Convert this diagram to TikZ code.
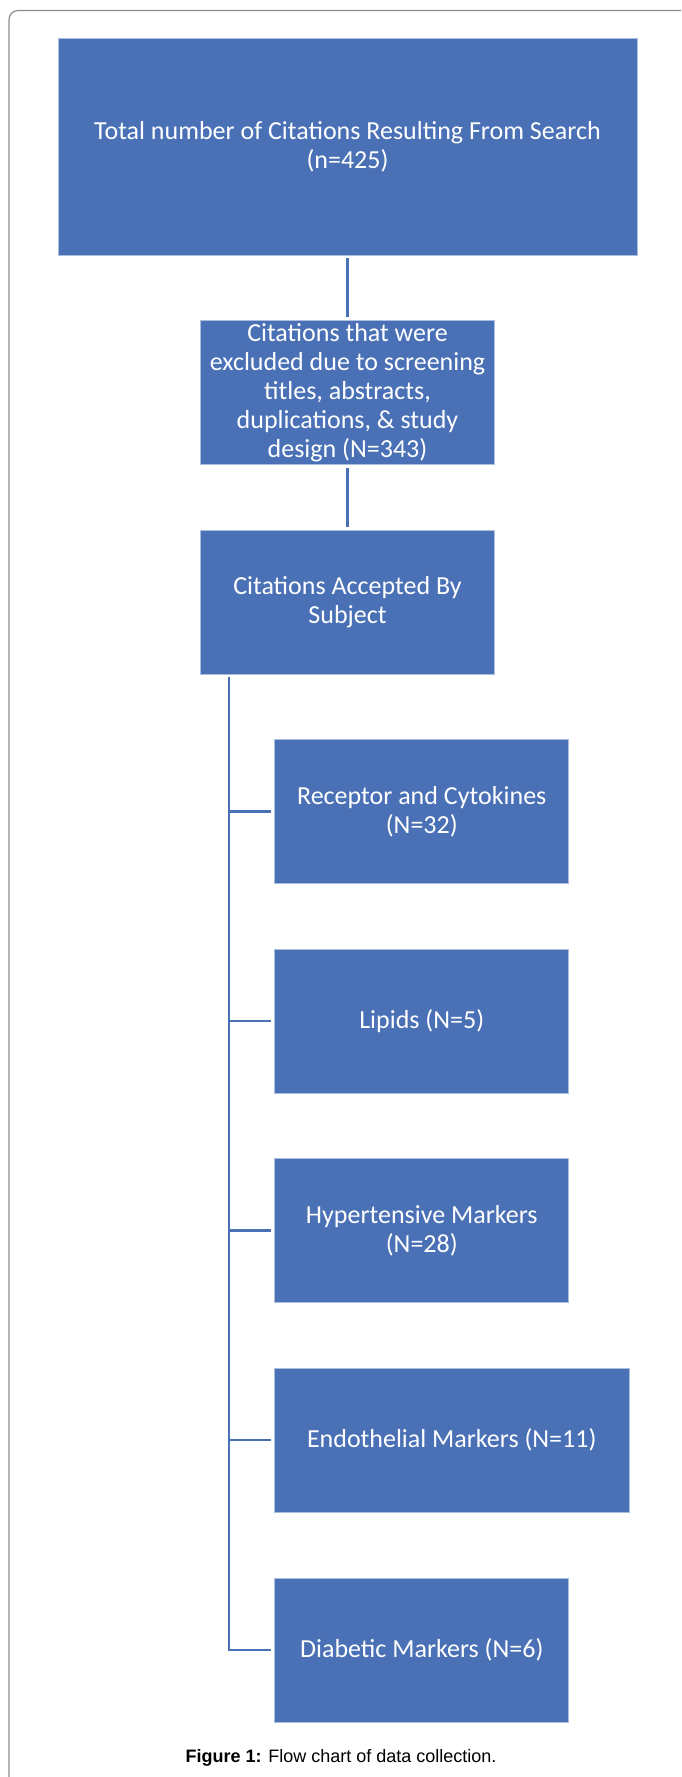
\documentclass[tikz,border=0pt]{standalone}
\usepackage{fontspec}
\setmainfont{Carlito}
\newfontfamily\capfont{Liberation Sans}
\usetikzlibrary{positioning}

\definecolor{boxblue}{RGB}{74,112,182}
\definecolor{boxedge}{RGB}{172,190,224}
\definecolor{framegray}{RGB}{140,140,140}

\tikzset{
	box/.style={draw=boxedge,line width=0.8pt,fill=boxblue,text=white,align=center,
		minimum width=294pt,minimum height=144pt,inner sep=0pt,
		font=\fontsize{26}{29}\selectfont},
	link/.style={draw=boxblue,line width=2.6pt,shorten <=3pt,shorten >=3pt},
}

\begin{document}
\begin{tikzpicture}[x=1pt,y=-1pt]
	\useasboundingbox (0,0) rectangle (681,1777);
	% frame of the figure
	\draw[framegray,line width=1.2pt,rounded corners=9pt] (681,10.5) -| (9,1777);

	\node[box,minimum width=579pt,minimum height=217pt] (total) at (347.5,146.5){Total number of Citations Resulting From Search\\(n=425)};
	\node[box] (excl) at (347.5,392.5){Citations that were\\excluded due to screening\\titles, abstracts,\\duplications, \& study\\design (N=343)};
	\node[box] (accepted) at (347.5,602){Citations Accepted By\\Subject};

	\node[box] (rec) at (421.75,811.5){Receptor and Cytokines\\(N=32)};
	\node[box] (lip) at (421.75,1021){Lipids (N=5)};
	\node[box] (hyp) at (421.75,1230.5){Hypertensive Markers\\(N=28)};
	\node[box,minimum width=354.5pt] (endo) at (451.75,1440){Endothelial Markers (N=11)};
	\node[box] (diab) at (421.75,1650){Diabetic Markers (N=6)};

	\draw[link] (total) -- (excl);
	\draw[link] (excl) -- (accepted);

	% trunk and branches
	\coordinate (trunktop) at (229,674);
	\draw[link,shorten <=3pt,shorten >=3pt] (trunktop) |- (diab.west);
	\foreach \b in {rec,lip,hyp,endo}
		\draw[link,shorten <=0pt] (trunktop |- \b.west) -- (\b.west);

	\node[font=\capfont\fontsize{18}{20}\selectfont,anchor=base] (caption) at (341,1762){\textbf{Figure 1:} Flow chart of data collection.};
\end{tikzpicture}
\end{document}
